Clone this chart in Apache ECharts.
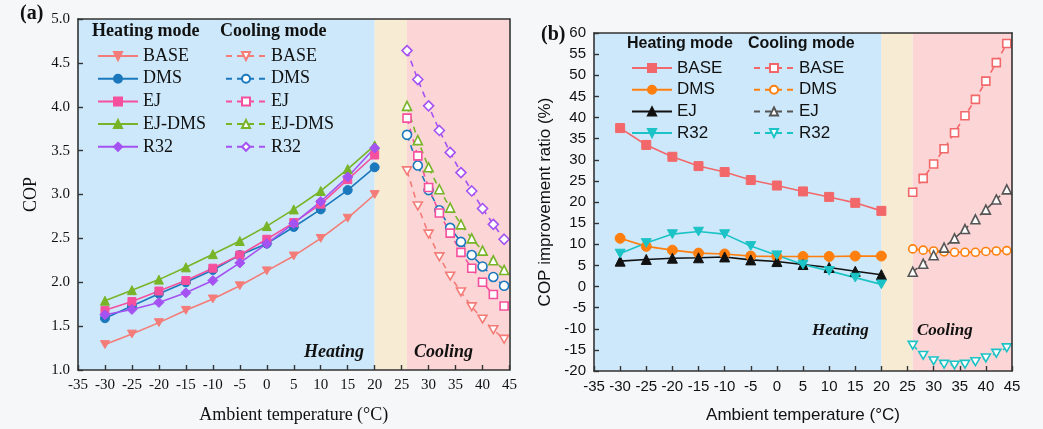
<!DOCTYPE html>
<html><head><meta charset="utf-8">
<script src="https://cdn.jsdelivr.net/npm/echarts@6/dist/echarts.min.js"></script>
<style>
html,body{margin:0;padding:0;background:#f5f7f9;}
#a{position:absolute;left:0;top:0;width:520px;height:429px;}
#b{position:absolute;left:520px;top:0;width:523px;height:429px;}
</style></head><body>
<div id="a"></div><div id="b"></div>
<script>
// ---------- data ----------
const xHeat = [-30, -25, -20, -15, -10, -5, 0, 5, 10, 15, 20];
const xCool = [26, 28, 30, 32, 34, 36, 38, 40, 42, 44];

// (a) COP, heating mode
const copHeatBASE  = [1.29, 1.41, 1.54, 1.68, 1.81, 1.96, 2.13, 2.30, 2.50, 2.73, 3.00];
const copHeatDMS   = [1.59, 1.73, 1.87, 2.00, 2.14, 2.31, 2.44, 2.63, 2.83, 3.05, 3.31];
const copHeatEJ    = [1.68, 1.78, 1.90, 2.02, 2.16, 2.31, 2.49, 2.68, 2.89, 3.17, 3.45];
const copHeatEJDMS = [1.79, 1.91, 2.03, 2.17, 2.32, 2.47, 2.64, 2.83, 3.04, 3.29, 3.56];
const copHeatR32   = [1.63, 1.69, 1.77, 1.88, 2.02, 2.22, 2.44, 2.67, 2.92, 3.20, 3.53];
// (a) COP, cooling mode
const copCoolBASE  = [3.27, 2.87, 2.55, 2.29, 2.07, 1.89, 1.72, 1.58, 1.46, 1.35];
const copCoolDMS   = [3.68, 3.33, 3.05, 2.82, 2.62, 2.46, 2.31, 2.18, 2.06, 1.96];
const copCoolEJ    = [3.87, 3.44, 3.08, 2.79, 2.56, 2.34, 2.16, 2.00, 1.86, 1.73];
const copCoolEJDMS = [4.01, 3.62, 3.31, 3.06, 2.85, 2.66, 2.50, 2.36, 2.25, 2.14];
const copCoolR32   = [4.64, 4.31, 4.01, 3.73, 3.48, 3.25, 3.04, 2.84, 2.66, 2.49];

// (b) COP improvement ratio (%), heating mode
const impHeatBASE = [37.5, 33.5, 30.7, 28.5, 27.1, 25.2, 23.9, 22.5, 21.2, 19.8, 17.9];
const impHeatDMS  = [11.4, 9.5, 8.6, 7.9, 7.7, 7.2, 7.1, 7.1, 7.1, 7.2, 7.2];
const impHeatEJ   = [6.0, 6.4, 6.7, 6.8, 7.0, 6.3, 5.9, 5.2, 4.5, 3.6, 2.8];
const impHeatR32  = [7.8, 10.3, 12.4, 13.0, 12.4, 9.6, 7.4, 5.2, 3.7, 2.1, 0.5];
// (b) cooling mode
const impCoolBASE = [22.3, 25.6, 29.0, 32.6, 36.4, 40.4, 44.3, 48.6, 53.0, 57.5];
const impCoolDMS  = [8.9, 8.6, 8.4, 8.2, 8.1, 8.1, 8.1, 8.3, 8.4, 8.5];
const impCoolEJ   = [3.5, 5.4, 7.4, 9.2, 11.4, 13.6, 15.9, 18.2, 20.6, 23.0];
const impCoolR32  = [-13.9, -16.3, -17.6, -18.4, -18.6, -18.4, -17.8, -16.9, -15.8, -14.5];

const legendNames = ['BASE', 'DMS', 'EJ', 'EJ-DMS', 'R32'];
const legendNamesB = ['BASE', 'DMS', 'EJ', 'R32'];

// ---------- helpers ----------
const SERIF = '"Liberation Serif","Times New Roman",serif';
const SANS = '"Liberation Sans",Arial,sans-serif';
const TRI_DOWN = 'path://M0,0L10,0L5,8.66Z';
const zip = (xs, ys) => xs.map((x, i) => [x, ys[i]]);

function line(name, xs, ys, color, symbol, open, size) {
  return {
    name: name, type: 'line', data: zip(xs, ys), z: 4,
    symbol: symbol, symbolSize: size || 9, symbolKeepAspect: true,
    showAllSymbol: true, animation: false,
    lineStyle: { color: color, width: 1.6, type: open ? [6, 5] : 'solid' },
    itemStyle: open ? { color: '#ffffff', borderColor: color, borderWidth: 1.6 }
                    : { color: color, borderColor: color, borderWidth: 1 },
    emphasis: { disabled: true }
  };
}
function bands() {
  return {
    type: 'line', data: [], z: 1, silent: true, animation: false,
    markArea: {
      silent: true,
      data: [
        [{ xAxis: -35, itemStyle: { color: '#cde8fa' } }, { xAxis: 20 }],
        [{ xAxis: 20, itemStyle: { color: '#f7ebd4' } }, { xAxis: 26 }],
        [{ xAxis: 26, itemStyle: { color: '#fcd6d6' } }, { xAxis: 45 }]
      ]
    }
  };
}
function axes(font, fs, yMin, yMax, yInt, yFmt, yName, yGap, xGap, nameFs) {
  const axLine = { show: true, onZero: false, lineStyle: { color: '#333', width: 1.6 } };
  return {
    xAxis: [
      { type: 'value', min: -35, max: 45, interval: 5, z: 5,
        axisLine: axLine, splitLine: { show: false },
        axisTick: { show: true, inside: true, length: 5, lineStyle: { color: '#333', width: 1.4 } },
        axisLabel: { fontFamily: font, fontSize: fs, color: '#111', margin: 8 },
        name: 'Ambient temperature (°C)', nameLocation: 'middle', nameGap: xGap,
        nameTextStyle: { fontFamily: font, fontSize: nameFs, color: '#111' } },
      { type: 'value', position: 'top', min: -35, max: 45, z: 5,
        axisLine: axLine, axisTick: { show: false }, axisLabel: { show: false }, splitLine: { show: false } }
    ],
    yAxis: [
      { type: 'value', min: yMin, max: yMax, interval: yInt, z: 5,
        axisLine: axLine, splitLine: { show: false },
        axisTick: { show: true, inside: true, length: 5, lineStyle: { color: '#333', width: 1.4 } },
        axisLabel: { fontFamily: font, fontSize: fs, color: '#111', margin: 8, formatter: yFmt },
        name: yName, nameLocation: 'middle', nameGap: yGap,
        nameTextStyle: { fontFamily: font, fontSize: nameFs, color: '#111' } },
      { type: 'value', position: 'right', min: yMin, max: yMax, z: 5,
        axisLine: axLine, axisTick: { show: false }, axisLabel: { show: false }, splitLine: { show: false } }
    ]
  };
}
function txt(x, y, s, font, size, weight, style) {
  return { type: 'text', left: x, top: y, z: 10, silent: true,
    style: { text: s, font: (style || 'normal') + ' ' + weight + ' ' + size + 'px ' + font, fill: '#111' } };
}
function legend(names, left, top, font, fs, gap) {
  return { data: names, orient: 'vertical', left: left, top: top,
    itemWidth: 40, itemHeight: 10, itemGap: gap, selectedMode: false,
    textStyle: { fontFamily: font, fontSize: fs, color: '#111', lineHeight: 18 } };
}

// ---------- chart (a) ----------
const ca = echarts.init(document.getElementById('a'), null, { renderer: 'canvas' });
const axA = axes(SERIF, 15, 1, 5, 0.5, v => v.toFixed(1), 'COP', 36, 36, 18);
ca.setOption({
  animation: false,
  grid: { left: 78, top: 19, right: 8, bottom: 55 },
  xAxis: axA.xAxis, yAxis: axA.yAxis,
  legend: [
    legend(legendNames, 92, 42, SERIF, 18, 4.7),
    legend(legendNames.map(n => n + ' '), 220, 42, SERIF, 18, 4.7)
  ],
  graphic: [
    txt(20, 4, '(a)', SERIF, 20, 'bold'),
    txt(92, 22, 'Heating mode', SERIF, 18, 'bold'),
    txt(220, 22, 'Cooling mode', SERIF, 18, 'bold'),
    txt(304, 343, 'Heating', SERIF, 18, 'bold', 'italic'),
    txt(414, 343, 'Cooling', SERIF, 18, 'bold', 'italic')
  ],
  series: [
    bands(),
    line('BASE', xHeat, copHeatBASE, '#f47c78', TRI_DOWN, false),
    line('DMS', xHeat, copHeatDMS, '#1b78bd', 'circle', false),
    line('EJ', xHeat, copHeatEJ, '#f5509e', 'rect', false, 8),
    line('EJ-DMS', xHeat, copHeatEJDMS, '#78b428', 'triangle', false),
    line('R32', xHeat, copHeatR32, '#a452f2', 'diamond', false, 10),
    line('BASE ', xCool, copCoolBASE, '#f47c78', TRI_DOWN, true),
    line('DMS ', xCool, copCoolDMS, '#1b78bd', 'circle', true),
    line('EJ ', xCool, copCoolEJ, '#f5509e', 'rect', true, 8),
    line('EJ-DMS ', xCool, copCoolEJDMS, '#78b428', 'triangle', true),
    line('R32 ', xCool, copCoolR32, '#a452f2', 'diamond', true, 10)
  ]
});

// ---------- chart (b) ----------
const cb = echarts.init(document.getElementById('b'), null, { renderer: 'canvas' });
const axB = axes(SANS, 15, -20, 60, 5, null, 'COP improvement ratio (%)', 40, 36, 17);
cb.setOption({
  animation: false,
  grid: { left: 74, top: 33, right: 31, bottom: 57 },
  xAxis: axB.xAxis, yAxis: axB.yAxis,
  legend: [
    legend(legendNamesB, 106, 54, SANS, 17, 3.7),
    legend(legendNamesB.map(n => n + ' '), 228, 54, SANS, 17, 3.7)
  ],
  graphic: [
    txt(21, 25, '(b)', SERIF, 20, 'bold'),
    txt(107, 36, 'Heating mode', SANS, 16, 'bold'),
    txt(228, 36, 'Cooling mode', SANS, 16, 'bold'),
    txt(292, 322, 'Heating', SERIF, 17, 'bold', 'italic'),
    txt(397, 322, 'Cooling', SERIF, 17, 'bold', 'italic')
  ],
  series: [
    bands(),
    line('BASE', xHeat, impHeatBASE, '#f2686a', 'rect', false, 9),
    line('DMS', xHeat, impHeatDMS, '#ff7f0e', 'circle', false, 10),
    line('EJ', xHeat, impHeatEJ, '#111111', 'triangle', false, 10),
    line('R32', xHeat, impHeatR32, '#1cc3c6', TRI_DOWN, false, 10),
    line('BASE ', xCool, impCoolBASE, '#f2686a', 'rect', true, 8),
    line('DMS ', xCool, impCoolDMS, '#ff7f0e', 'circle', true, 8),
    line('EJ ', xCool, impCoolEJ, '#555555', 'triangle', true, 9),
    line('R32 ', xCool, impCoolR32, '#1cc3c6', TRI_DOWN, true, 9)
  ]
});
</script>
</body></html>
